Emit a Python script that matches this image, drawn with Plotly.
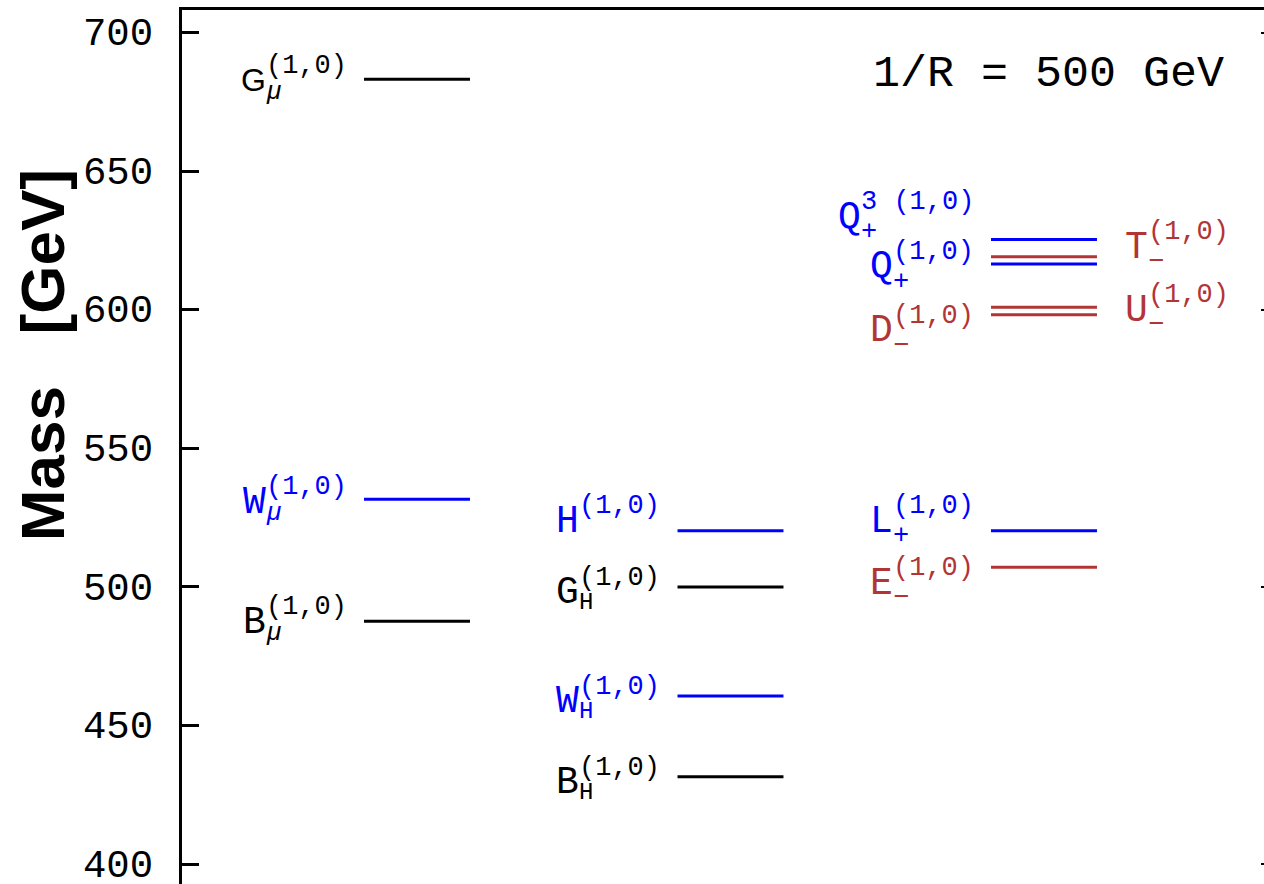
import plotly.graph_objects as go

# (1,0) Kaluza-Klein level masses [GeV] for 1/R = 500 GeV
level_names = ["G_mu", "W_mu", "B_mu", "H", "G_H", "W_H", "B_H",
               "Q3_plus", "Q_plus", "L_plus", "E_minus", "T_minus", "U_minus", "D_minus"]
level_column = [1, 1, 1, 2, 2, 2, 2, 3, 3, 3, 3, 3, 3, 3]
level_mass = [683.2, 531.6, 487.6, 520.3, 500.0, 460.6, 431.5,
              625.4, 616.5, 520.3, 507.1, 619.2, 600.9, 598.2]
level_kind = ["neutral", "charged", "neutral", "charged", "neutral", "charged", "neutral",
              "charged", "charged", "charged", "singlet", "singlet", "singlet", "singlet"]

# label pieces: base letter, subscript, superscript
label_base = ["G", "W", "B", "H", "G", "W", "B", "Q", "Q", "L", "E", "T", "U", "D"]
label_sub = ["μ", "μ", "μ", "", "H", "H", "H", "+", "+", "+", "−", "−", "−", "−"]
label_sup = ["(1,0)", "(1,0)", "(1,0)", "(1,0)", "(1,0)", "(1,0)", "(1,0)",
             "3 (1,0)", "(1,0)", "(1,0)", "(1,0)", "(1,0)", "(1,0)", "(1,0)"]

y_ticks = [400, 450, 500, 550, 600, 650, 700]
y_range = [392.8, 708.2]
x_range = [0.2504, 3.7018]

# styling
KIND_COLOR = {"neutral": "#000000", "charged": "#0000ff", "singlet": "#b23535"}
MONO = "Courier New, Nimbus Mono PS, Liberation Mono"
SANS = "Liberation Sans"
BASE_SIZE, SUP_SIZE = 38, 27
K_MONO, K_SANS = 0.2665, 0.3467   # baseline offset below box centre, in em
HALF_W = 0.169                    # half length of a level line (x units)

# per-label placement (pixels): side of the line, baseline offset below the line
label_side = ["L"] * 11 + ["R", "R", "L"]
label_dy = [12, 13, 11, 1, 16, 16, 16, -12, 13, 1, 26, 1, 13, 26]

fig = go.Figure()

for kind, color in KIND_COLOR.items():
    xs, ys = [], []
    for c, m, k in zip(level_column, level_mass, level_kind):
        if k == kind:
            xs += [c - HALF_W, c + HALF_W, None]
            ys += [m, m, None]
    fig.add_trace(go.Scatter(x=xs, y=ys, mode="lines", line=dict(color=color, width=3),
                             hoverinfo="skip", showlegend=False))

# invisible trace on the right-hand axis so its ticks are drawn
fig.add_trace(go.Scatter(x=[None], y=[None], yaxis="y2", showlegend=False))

annotations = []


def add_text(text, x, y, xanchor, xshift, baseline_dy, size, family, color):
    k = K_SANS if family == SANS else K_MONO
    annotations.append(dict(
        text=text, x=x, y=y, xref="x", yref="y", showarrow=False,
        xanchor=xanchor, yanchor="middle", xshift=xshift,
        yshift=-(baseline_dy - k * size),
        font=dict(family=family, size=size, color=color),
        borderpad=0, borderwidth=0))


for i, name in enumerate(level_names):
    col, m = level_column[i], level_mass[i]
    color = KIND_COLOR[level_kind[i]]
    base, sub, sup = label_base[i], label_sub[i], label_sup[i]
    dy = label_dy[i]
    sans_base = name == "G_mu"
    base_family = SANS if sans_base else MONO
    base_size = 32 if sans_base else BASE_SIZE
    sup_w = len(sup) * 0.6 * SUP_SIZE
    if label_side[i] == "L":
        sup_right = -70
        sup_left = sup_right - sup_w
        add_text(base, col, m, "right", sup_left, dy, base_size, base_family, color)
        add_text(sup, col, m, "right", sup_right, dy - 18, SUP_SIZE, MONO, color)
    else:
        base_left = 81
        sup_left = base_left + 0.6 * BASE_SIZE
        add_text(base, col, m, "left", base_left, dy, base_size, base_family, color)
        add_text(sup, col, m, "left", sup_left, dy - 18, SUP_SIZE, MONO, color)
    if sub:
        if sub == "μ":
            add_text("<i>μ</i>", col, m, "left", sup_left, dy + 8, 26, SANS, color)
        elif sub in "+−":
            add_text(sub, col, m, "left", sup_left, dy + 12, SUP_SIZE, MONO, color)
        else:
            add_text(sub, col, m, "left", sup_left, dy + 6, 24, MONO, color)

# axis title
annotations.append(dict(
    text="Mass\u00a0\u00a0\u00a0[GeV]", xref="paper", yref="paper", x=-0.1294, y=0.605,
    xanchor="center", yanchor="middle", textangle=-90, showarrow=False,
    font=dict(family=SANS, size=62, color="#000000", weight="bold")))

# compactification scale
annotations.append(dict(
    text="1/R = 500 GeV", xref="paper", yref="paper", x=0.965, y=0.926,
    xanchor="right", yanchor="middle", showarrow=False,
    font=dict(family=MONO, size=45, color="#000000")))

fig.update_layout(
    width=1264, height=884,
    margin=dict(l=182, r=0, t=10, b=0, autoexpand=False),
    paper_bgcolor="white", plot_bgcolor="white",
    showlegend=False,
    annotations=annotations,
    xaxis=dict(range=x_range, side="top", showline=True, linecolor="black", linewidth=3,
               ticks="", showticklabels=False, showgrid=False, zeroline=False,
               fixedrange=True, automargin=False),
    yaxis=dict(range=y_range, tickvals=y_ticks, ticks="inside", ticklen=17, tickwidth=3,
               tickcolor="black", showline=True, linecolor="black", linewidth=3,
               showgrid=False, zeroline=False, ticklabelstandoff=18,
               ticklabelshift=-1, ticklabeloverflow="allow", automargin=False,
               tickfont=dict(family=MONO, size=39, color="#000000")),
    yaxis2=dict(range=y_range, overlaying="y", side="right", tickvals=[400, 500, 600, 700],
                ticks="inside", ticklen=3, tickwidth=2, tickcolor="black",
                showticklabels=False, showline=False, showgrid=False, zeroline=False,
                automargin=False),
)

fig.write_html("out.html")
